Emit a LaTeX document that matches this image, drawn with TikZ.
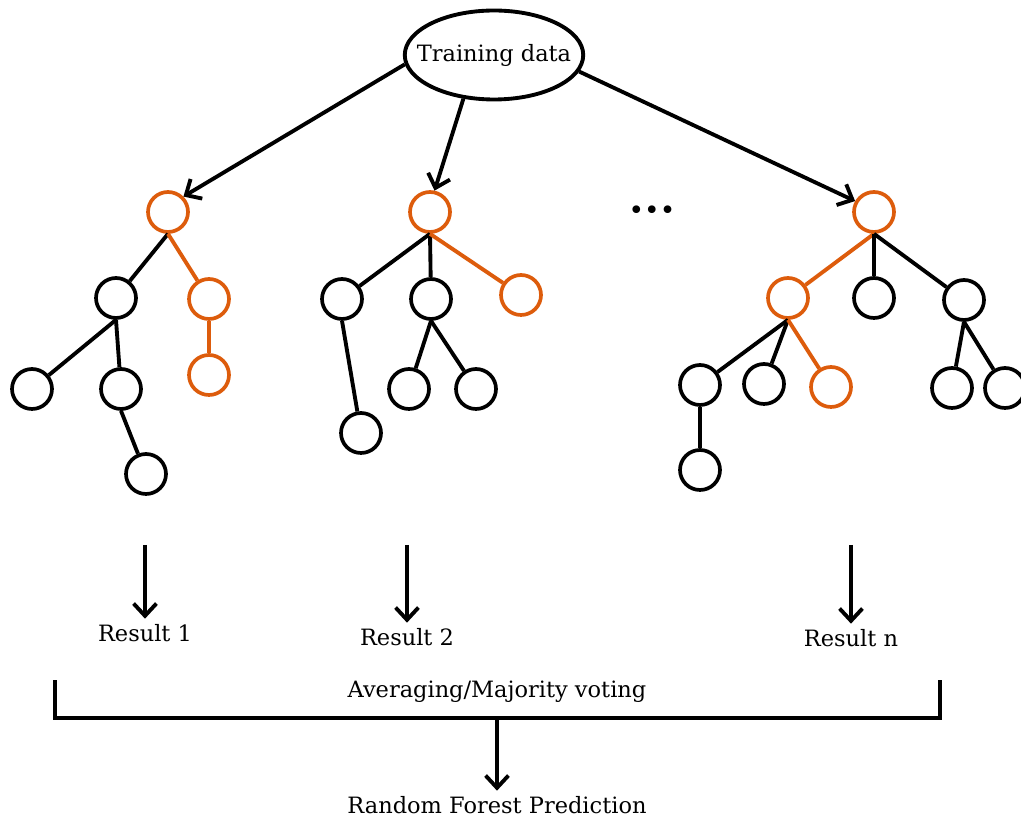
\documentclass[tikz,border=0pt]{standalone}
\usepackage{fontspec}
\setmainfont{DejaVu Serif}
\usetikzlibrary{arrows.meta, shapes.geometric}
\definecolor{pathorange}{RGB}{221,92,12}

\begin{document}
\begin{tikzpicture}[x=0.02cm, y=-0.02cm,
  leaf/.style = {draw, circle, line width=2.1pt, minimum size=0.8cm, inner sep=0pt},
  hot/.style = {draw=pathorange},
  link/.style = {line width=2.2pt},
  hotlink/.style = {line width=2.2pt, draw=pathorange},
  flow/.style = {line width=2.2pt, -{Straight Barb[length=7pt, width=13pt]}},
  lbl/.style = {font=\fontsize{12.8}{15}\selectfont, inner sep=3pt}]
\useasboundingbox (0,0) rectangle (1021,820);

\node[lbl, draw, ellipse, line width=2.2pt, minimum height=1.78cm, inner xsep=-8pt, inner ysep=0pt] (train) at (494,55) {Training data};

% first tree
\node[leaf, hot] (r1) at (168,212) {};
\node[leaf] (a1) at (116,298) {};
\node[leaf, hot] (b1) at (209,299) {};
\node[leaf, hot] (c1) at (209,375) {};
\node[leaf] (d1) at (32,389) {};
\node[leaf] (e1) at (121,389) {};
\node[leaf] (f1) at (146,474) {};
\draw[link] (r1.south) -- (a1);
\draw[hotlink] (r1.south) -- (b1);
\draw[hotlink] (b1) -- (c1);
\draw[link] (a1.south) -- (d1);
\draw[link] (a1.south) -- (e1);
\draw[link] (e1.south) -- (f1);

% second tree
\node[leaf, hot] (r2) at (430,212) {};
\node[leaf] (a2) at (342,299) {};
\node[leaf] (b2) at (431,299) {};
\node[leaf, hot] (c2) at (521,295) {};
\node[leaf] (d2) at (361,433) {};
\node[leaf] (e2) at (409,389) {};
\node[leaf] (f2) at (476,389) {};
\draw[link] (r2.south) -- (a2);
\draw[link] (r2.south) -- (b2);
\draw[hotlink] (r2.south) -- (c2);
\draw[link] (a2.south) -- (d2);
\draw[link] (b2.south) -- (e2);
\draw[link] (b2.south) -- (f2);

\node (dots) at (652,213) {\fontsize{15}{15}\selectfont\textbullet\textbullet\textbullet};

% last tree
\node[leaf, hot] (r3) at (874,212) {};
\node[leaf, hot] (a3) at (788,298) {};
\node[leaf] (b3) at (874,298) {};
\node[leaf] (c3) at (964,300) {};
\node[leaf] (d3) at (700,385) {};
\node[leaf] (e3) at (764,384) {};
\node[leaf, hot] (f3) at (831,387) {};
\node[leaf] (g3) at (700,470) {};
\node[leaf] (h3) at (952,388) {};
\node[leaf] (i3) at (1005,388) {};
\draw[hotlink] (r3.south) -- (a3);
\draw[link] (r3.south) -- (b3);
\draw[link] (r3.south) -- (c3);
\draw[link] (a3.south) -- (d3);
\draw[link] (a3.south) -- (e3);
\draw[hotlink] (a3.south) -- (f3);
\draw[link] (d3) -- (g3);
\draw[link] (c3.south) -- (h3);
\draw[link] (c3.south) -- (i3);

% sampling arrows
\draw[flow] (train.186) -- (r1.45);
\draw[flow] (train.-125) -- (r2.78);
\draw[flow] (train.-11) -- (r3.150);

% results
\node[lbl] (res1) at (145,633) {Result 1};
\node[lbl] (res2) at (407,637) {Result 2};
\node[lbl] (resn) at (851,638) {Result n};
\coordinate (o1) at (145,545);
\coordinate (o2) at (407,545);
\coordinate (on) at (851,545);
\draw[flow] (o1) -- (res1);
\draw[flow] (o2) -- (res2);
\draw[flow] (on) -- (resn);

% voting bracket
\coordinate (vl) at (55,680);
\coordinate (vr) at (940,680);
\coordinate (vote) at (497,718);
\draw[link] (vl) -- (vl |- vote) -- (vr |- vote) -- (vr);
\node[lbl] (avg) at (497,692) {Averaging/Majority voting};
\node[lbl] (pred) at (497,805) {Random Forest Prediction};
\draw[flow] (vote) -- (pred);
\end{tikzpicture}
\end{document}
